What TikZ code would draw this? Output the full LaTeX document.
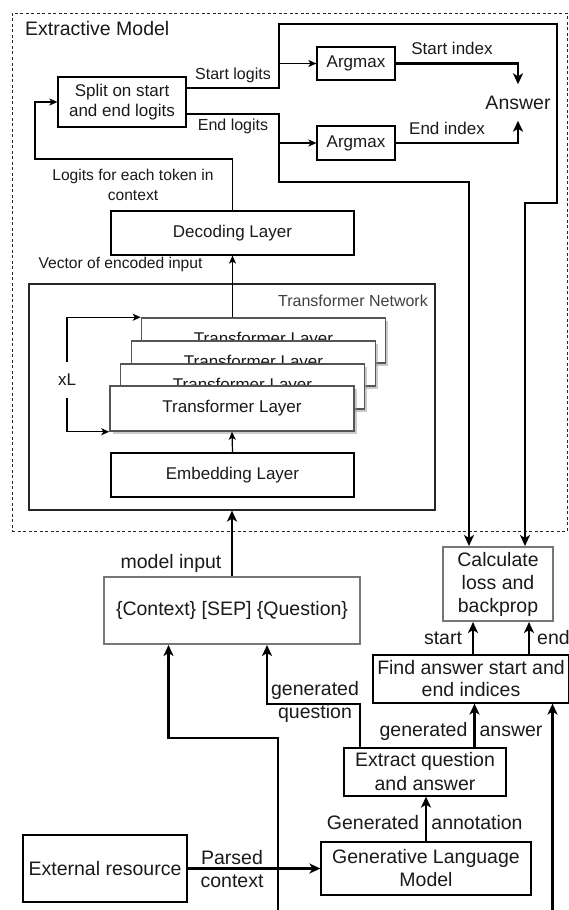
\documentclass[tikz,border=0pt]{standalone}
\usepackage{fontspec}
\setmainfont{Liberation Sans}
\usetikzlibrary{arrows.meta,calc,shadows}
\newcommand\fbig{\fontsize{19.5}{23}\selectfont}
\newcommand\fmid{\fontsize{17}{20}\selectfont}
\newcommand\fsml{\fontsize{16}{20}\selectfont}
\newcommand\ftiny{\fontsize{15.6}{20}\selectfont}
\definecolor{txt}{HTML}{1A1A1A}
\definecolor{gbord}{HTML}{777777}
\definecolor{tlbord}{HTML}{555555}
\begin{document}
\begin{tikzpicture}[x=1pt,y=-1pt,
  box/.style={draw=black, line width=1.2pt, fill=white, inner sep=0pt, align=center, text=txt},
  gbox/.style={draw=gbord, line width=2pt, fill=white, inner sep=0pt, align=center, text=txt},
  tlbox/.style={draw=tlbord, line width=1.5pt, fill=white, inner sep=0pt, minimum width=244pt, minimum height=45pt, font=\fmid, text=txt, drop shadow={shadow xshift=2.5pt, shadow yshift=-2.5pt, fill=black!40}},
  lbl/.style={inner sep=0pt, text=txt, align=center},
  thk/.style={line width=2.6pt, -{Stealth[length=11pt,width=10pt,inset=3pt]}},
  thn/.style={line width=1.2pt, -{Stealth[length=8pt,width=7pt,inset=2pt]}},
]
\fill[white] (0,0) rectangle (568,910);
\useasboundingbox (0,0) rectangle (568,910);

% extractive model frame
\node[draw=black!85, dash pattern=on 3pt off 2.5pt, line width=1pt, minimum width=555pt, minimum height=518pt, inner sep=0pt] (extr) at (289.5,272) {};
\node[lbl, font=\fbig, anchor=west] (title) at (25,29) {Extractive Model};

% transformer network
\node[draw=black!85, line width=1.2pt, minimum width=406pt, minimum height=226pt, inner sep=0pt] (tn) at (232,397) {};
\node[lbl, font=\fsml, anchor=east, text=black!75] (tnl) at (428,301) {Transformer Network};
\node[lbl, font=\ftiny] (vec) at (120.5,264) {Vector of encoded input};

\node[tlbox] (tl4) at (263.5,340.5) {Transformer Layer};
\node[tlbox] (tl3) at (253.5,363.5) {Transformer Layer};
\node[tlbox] (tl2) at (242.5,386.5) {Transformer Layer};
\node[tlbox] (tl1) at (232,408.5) {Transformer Layer};

\node[box, font=\fmid, minimum width=243pt, minimum height=44pt] (emb) at (232.5,475) {Embedding Layer};
\node[box, font=\fmid, minimum width=243pt, minimum height=44pt] (dec) at (232.5,233) {Decoding Layer};

\node[lbl, font=\fmid, fill=white, minimum height=36pt] (xl) at (67,380) {xL};
\draw[thn] (xl.north) |- (tl4.north west);
\draw[thn] (xl.south) |- (tl1.south west);
\draw[thn] (emb.north) -- (tl1.south);
\draw[thn] (dec.south |- tl4.north) -- (dec.south);

% split and argmax
\node[box, font=\fmid, minimum width=128pt, minimum height=50pt] (split) at (122,102) {Split on start\\and end logits};
\node[box, font=\fmid, minimum width=78pt, minimum height=33pt] (arg1) at (356,63.5) {Argmax};
\node[box, font=\fmid, minimum width=78pt, minimum height=34pt] (arg2) at (356,143) {Argmax};
\node[lbl, font=\fbig, minimum height=36pt] (ans) at (518,102.5) {Answer};

\coordinate (lg) at (35,159);
\draw[thn] (dec.north) |- (lg) |- (split.west);
\node[lbl, font=\ftiny] (lglbl) at (133,185) {Logits for each token in\\context};

\coordinate (j1) at (279,63.5);
\coordinate (j2) at (279,143);
\draw[thn] (j1) -- (arg1.west);
\draw[thn] (j2) -- (arg2.west);

\node[lbl, font=\fsml] (sllbl) at (233,75) {Start logits};
\node[lbl, font=\fsml] (ellbl) at (233,126) {End logits};
\node[lbl, font=\fmid] (silbl) at (452,48) {Start index};
\node[lbl, font=\fmid] (eilbl) at (447,128) {End index};

\draw[thk] (arg1.east) -| (ans.north);
\draw[thk] (arg2.east) -| (ans.south);

% bottom part
\node[gbox, font=\fbig, minimum width=256pt, minimum height=67pt] (ctx) at (232,610.5) {\{Context\} [SEP] \{Question\}};
\node[gbox, font=\fbig, minimum width=110pt, minimum height=74pt] (calc) at (498,584) {Calculate\\loss and\\backprop};
\node[box, font=\fbig, minimum width=196pt, minimum height=48pt] (find) at (471,679) {Find answer start and\\[-1pt]end indices};
\node[box, font=\fbig, minimum width=162pt, minimum height=48pt] (extq) at (425,772) {Extract question\\[1pt]and answer};
\node[box, font=\fbig, minimum width=210pt, minimum height=53pt] (glm) at (426,868.5) {Generative Language\\Model};
\node[box, font=\fbig, minimum width=164pt, minimum height=67pt] (ext) at (105,868.5) {External resource};

% thick connectors from extractive model
\coordinate (sl0) at (186,88);
\coordinate (el0) at (186,114);
\draw[thk] (sl0) -| (279,24) -| (557,203) -| ($(calc.north)+(27,0)$);
\draw[thk] (el0) -| (279,182) -| ($(calc.north)+(-29,0)$);

\draw[thk] (ctx.north) -- (tn.south);
\node[lbl, font=\fbig] (milbl) at (171,563) {model input};

\draw[thk] ($(find.north)+(2,0)$) -- ($(calc.south)+(-25,0)$);
\draw[thk] ($(find.north)+(58,0)$) -- ($(calc.south)+(31,0)$);
\node[lbl, font=\fbig] (stlbl) at (443,638) {start};
\node[lbl, font=\fbig, anchor=west] (enlbl) at (537,638) {end};

\coordinate (ea) at ($(extq.north)+(49.5,0)$);
\draw[thk] (ea) -- (ea |- find.south);
\node[lbl, font=\fbig] (galbl) at (423.5,731) {generated};
\node[lbl, font=\fbig] (aalbl) at (511,731) {answer};

\coordinate (eq) at ($(extq.north)+(-65,0)$);
\draw[thk] (eq) |- ($(ctx.south)+(35,59)$) -- ($(ctx.south)+(35,0)$);
\node[lbl, font=\fbig] (gqlbl) at (315,701.5) {generated\\question};

\draw[thk] (glm.north) -- (glm.north |- extq.south);
\node[lbl, font=\fbig] (gnlbl) at (373,823) {Generated};
\node[lbl, font=\fbig] (anlbl) at (477,823) {annotation};

\draw[thk] (ext.east) -- (glm.west);
\node[lbl, font=\fbig] (pclbl) at (232,869.5) {Parsed\\context};

\coordinate (b1) at (278,912);
\draw[thk] (b1) |- ($(ctx.south)+(-63.5,93)$) -- ($(ctx.south)+(-63.5,0)$);
\coordinate (b2) at (552.5,912);
\draw[thk] (b2) -- (b2 |- find.south);
\end{tikzpicture}
\end{document}
